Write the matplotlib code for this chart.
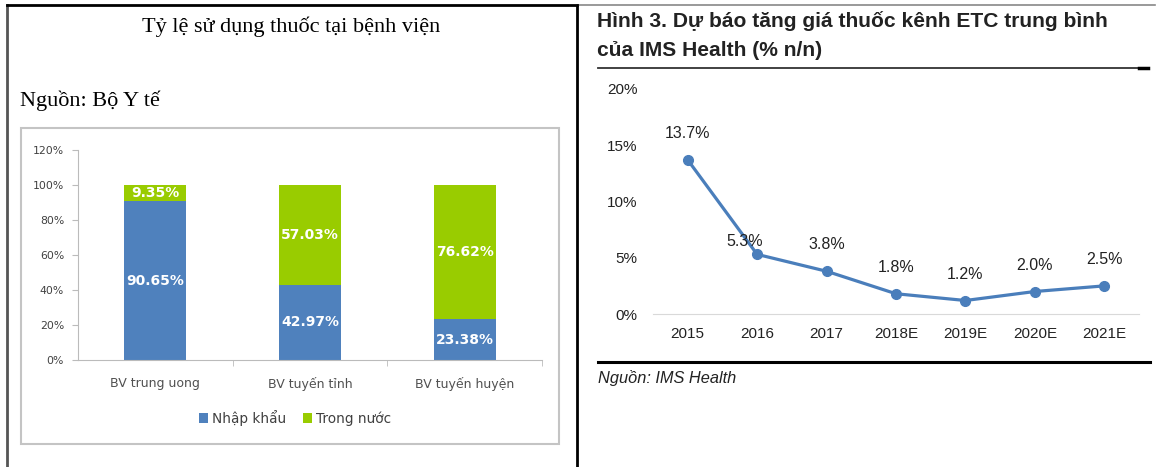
import numpy as np
import matplotlib
matplotlib.use("Agg")
import matplotlib.pyplot as plt
from matplotlib.patches import Rectangle

W, H = 1158, 467

# left chart data
hospitals = ["BV trung uong", "BV tuyến tỉnh", "BV tuyến huyện"]
nhap_khau = [90.65, 42.97, 23.38]
trong_nuoc = [9.35, 57.03, 76.62]
bar_ticks = [0, 20, 40, 60, 80, 100, 120]

# right chart data
years = ["2015", "2016", "2017", "2018E", "2019E", "2020E", "2021E"]
growth = [13.7, 5.3, 3.8, 1.8, 1.2, 2.0, 2.5]
line_ticks = [0, 5, 10, 15, 20]

BLUE = "#4f81bd"
GREEN = "#99cc00"
LINE = "#4a7ebb"


def px(x0, y0, x1, y1):
    return [x0 / W, 1 - y1 / H, (x1 - x0) / W, (y1 - y0) / H]


fig = plt.figure(figsize=(W / 100, H / 100), dpi=100)
fig.patch.set_facecolor("white")

# page layer in pixel coords
bg = fig.add_axes([0, 0, 1, 1])
bg.set_xlim(0, W)
bg.set_ylim(H, 0)
bg.axis("off")
bg.plot([7, 7], [5, H], color="#555555", lw=2)
bg.plot([7, 577], [5, 5], color="black", lw=2)
bg.plot([577, 1155], [5, 5], color="#888888", lw=1.2)
bg.plot([577, 577], [5, H], color="black", lw=2)
bg.add_patch(Rectangle((21, 128), 538, 316, fill=False, ec="#c4c4c4", lw=1.5))

bg.text(291, 27, "Tỷ lệ sử dụng thuốc tại bệnh viện", family="Liberation Serif",
        fontsize=16, ha="center", va="center")
bg.text(20, 101, "Nguồn: Bộ Y tế", family="Liberation Serif", fontsize=16,
        ha="left", va="center")

bg.text(597, 21, "Hình 3. Dự báo tăng giá thuốc kênh ETC trung bình",
        family="Liberation Sans", fontweight="bold", fontsize=15.1,
        color="#222222", ha="left", va="center")
bg.text(597, 50, "của IMS Health (% n/n)", family="Liberation Sans",
        fontweight="bold", fontsize=15.1, color="#222222", ha="left", va="center")
bg.plot([598, 1148], [67.5, 67.5], color="#333333", lw=1.3)
bg.plot([1139, 1148], [67.5, 67.5], color="black", lw=2.5)
bg.plot([598, 1150], [362, 362], color="black", lw=2.2)
bg.text(598, 378, "Nguồn: IMS Health", family="Liberation Sans", style="italic",
        fontsize=11.8, color="#222222", ha="left", va="center")

# stacked bar chart
ax = fig.add_axes(px(78, 150, 542, 360))
x = np.arange(len(hospitals))
b1 = ax.bar(x, nhap_khau, width=0.4, color=BLUE, label="Nhập khẩu")
b2 = ax.bar(x, trong_nuoc, width=0.4, bottom=nhap_khau, color=GREEN, label="Trong nước")
for i in range(len(x)):
    ax.text(x[i], nhap_khau[i] / 2, f"{nhap_khau[i]:.2f}%", color="white",
            fontweight="bold", fontsize=10, ha="center", va="center")
    ax.text(x[i], nhap_khau[i] + trong_nuoc[i] / 2, f"{trong_nuoc[i]:.2f}%",
            color="white", fontweight="bold", fontsize=10, ha="center", va="center")
ax.set_xlim(-0.5, 2.5)
ax.set_ylim(0, 120)
ax.set_yticks(bar_ticks)
ax.set_yticklabels([f"{t}%" for t in bar_ticks], fontsize=7.8, color="#404040")
ax.set_xticks(x)
ax.set_xticklabels(hospitals, fontsize=9, color="#505050")
ax.set_xticks([0.5, 1.5, 2.5], minor=True)
ax.tick_params(axis="x", which="major", length=0, pad=12)
ax.tick_params(axis="x", which="minor", length=4, color="#bbbbbb")
ax.tick_params(axis="y", length=4, color="#bbbbbb", pad=6)
for s in ["top", "right"]:
    ax.spines[s].set_visible(False)
ax.spines["left"].set_color("#bbbbbb")
ax.spines["bottom"].set_color("#bbbbbb")
ax.set_facecolor("none")
fig.legend(handles=[b1, b2], loc="center", bbox_to_anchor=(295 / W, 1 - 418 / H),
           ncol=2, frameon=False, fontsize=9.8, handlelength=0.7, handleheight=0.7,
           handletextpad=0.3, columnspacing=1.2, labelcolor="#404040")

# line chart
ax2 = fig.add_axes(px(653, 89, 1139, 314))
xl = np.arange(len(years))
ax2.plot(xl, growth, color=LINE, lw=2.3, marker="o", markersize=7, zorder=3)
for i, v in enumerate(growth):
    off = (-9, 9) if i == 1 else (0, 19)
    ax2.annotate(f"{v:.1f}%", (xl[i], v), xytext=off, textcoords="offset points",
                 ha="center", va="center", fontsize=11.5, family="Liberation Sans",
                 color="#222222")
ax2.set_xlim(-0.5, len(years) - 0.5)
ax2.set_ylim(0, 20)
ax2.set_yticks(line_ticks)
ax2.set_yticklabels([f"{t}%" for t in line_ticks], fontsize=11,
                    family="Liberation Sans", color="#222222")
ax2.set_xticks(xl)
ax2.set_xticklabels(years, fontsize=11, family="Liberation Sans", color="#222222")
ax2.tick_params(axis="y", length=0, pad=11)
ax2.tick_params(axis="x", length=0, pad=9)
for s in ["top", "right", "left"]:
    ax2.spines[s].set_visible(False)
ax2.spines["bottom"].set_color("#d9d9d9")
ax2.set_facecolor("none")

fig.savefig("out.png", dpi=100)
